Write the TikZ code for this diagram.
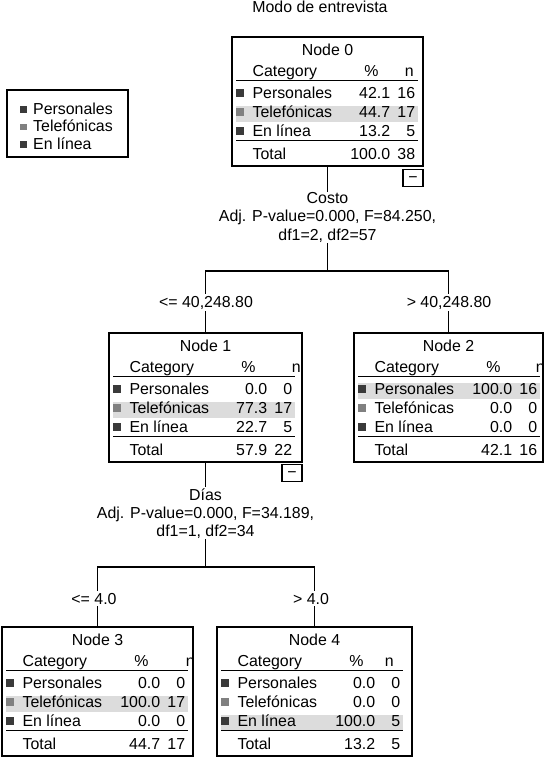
\documentclass[tikz,border=0pt]{standalone}
\usepackage{fontspec}
\setmainfont{Liberation Sans}
\usetikzlibrary{calc}
\definecolor{cat1}{HTML}{3A3A3A}
\definecolor{cat2}{HTML}{808080}
\definecolor{cat3}{HTML}{3A3A3A}
\definecolor{hilite}{HTML}{DCDCDC}

% table inside a tree node: box, title, highlighted row, rows, total %, total n, n header x
\newcommand{\cattable}[7]{%
  \node[txt, anchor=base] (#1-title) at ([yshift=-19pt]#1.north) {#2};
  \begin{scope}[shift={(#1.north west)}]
    \fill[hilite] (5,{31.5+19*#3}) rectangle (187,{47.5+19*#3});
    \node[txt, anchor=base west] (#1-cat) at (21,40) {Category};
    \node[txt, anchor=base] (#1-pcthead) at (140,40) {\%};
    \node[txt, anchor=base] (#1-nhead) at (#7,40) {n};
    \draw[rule] (5,44) -- (187,44);
    \foreach \pc/\nn [count=\i] in {#4} {
      \fill[cat\i] (5,{34+19*\i}) rectangle (13,{42+19*\i});
      \node[txt, anchor=base west] (#1-row\i) at (21,{43+19*\i})
        {\ifcase\i\or Personales\or Telefónicas\or En línea\fi};
      \node[txt, anchor=base east] (#1-pct\i) at (159,{43+19*\i}) {\pc};
      \node[txt, anchor=base east] (#1-n\i) at (184,{43+19*\i}) {\nn};
    }
    \draw[rule] (5,104) -- (187,104);
    \node[txt, anchor=base west] (#1-total) at (21,123) {Total};
    \node[txt, anchor=base east] (#1-totpct) at (159,123) {#5};
    \node[txt, anchor=base east] (#1-totn) at (184,123) {#6};
  \end{scope}}

\begin{document}
\begin{tikzpicture}[
    x=1pt, y=-1pt,
    font=\fontsize{15.9}{18}\selectfont,
    txt/.style={inner sep=0pt},
    treebox/.style={rectangle, draw, line width=1.3pt, minimum height=129pt, inner sep=0pt},
    minusbox/.style={rectangle, draw, line width=1.2pt, minimum width=20pt, minimum height=17pt,
      inner sep=0pt, text height=9.4pt, text depth=0pt},
    rule/.style={line width=1.3pt},
    link/.style={line width=1.2pt},
    split/.style={align=center, fill=white, inner sep=1pt},
    cond/.style={fill=white, inner sep=1.5pt}
]
    \useasboundingbox (0,0) rectangle (546,759);

    % titulo
    \node[txt, anchor=base] (title) at (320,12.7) {Modo de entrevista};

    % leyenda
    \node[rectangle, draw, line width=1.2pt, minimum width=121pt, minimum height=67pt] (legend) at (67.5,123.5) {};
    \foreach \lbl [count=\i] in {Personales,Telefónicas,En línea} {
      \fill[cat\i] (20,{89+17.5*\i}) rectangle (26.5,{95.5+17.5*\i});
      \node[txt, anchor=base west] (leg\i) at (33,{97+17.5*\i}) {\lbl};
    }

    % nodos del arbol
    \node[treebox, minimum width=191pt] (n0) at (327.5,101.5) {};
    \node[treebox, minimum width=193pt] (n1) at (205.5,397.5) {};
    \node[treebox, minimum width=189pt] (n2) at (448.5,397.5) {};
    \node[treebox, minimum width=191pt] (n3) at (97.5,691.5) {};
    \node[treebox, minimum width=195pt] (n4) at (314.5,691.5) {};

    \node[minusbox, anchor=north east] (n0-minus) at ([yshift=-2pt]n0.south east) {−};
    \node[minusbox, anchor=north east] (n1-minus) at ([yshift=-1pt]n1.south east) {−};

    % ramas
    \coordinate (b0) at (327.5,271);
    \coordinate (b1) at (205.5,567);
    \draw[link] (n0.south) -- (b0) -| (n1.north);
    \draw[link] (b0) -| (n2.north);
    \draw[link] (n1.south) -- (b1) -| (n3.north);
    \draw[link] (b1) -| (n4.north);

    % tablas
    \cattable{n0}{Node 0}{2}{42.1/16,44.7/17,13.2/5}{100.0}{38}{178}
    \cattable{n1}{Node 1}{2}{0.0/0,77.3/17,22.7/5}{57.9}{22}{188}
    \cattable{n2}{Node 2}{1}{100.0/16,0.0/0,0.0/0}{42.1}{16}{187}
    \cattable{n3}{Node 3}{2}{0.0/0,100.0/17,0.0/0}{44.7}{17}{189}
    \cattable{n4}{Node 4}{3}{0.0/0,0.0/0,100.0/5}{13.2}{5}{173}

    % divisiones
    \node[split, anchor=base] (split0) at (327.5,240) {Costo\\Adj. P-value=0.000, F=84.250,\\df1=2, df2=57};
    \node[split, anchor=base] (split1) at (205.5,536) {Días\\Adj. P-value=0.000, F=34.189,\\df1=1, df2=34};

    % condiciones
    \node[cond, anchor=base] (c1) at (206,307) {<= 40,248.80};
    \node[cond, anchor=base] (c2) at (449,307) {> 40,248.80};
    \node[cond, anchor=base] (c3) at (94,604) {<= 4.0};
    \node[cond, anchor=base] (c4) at (311,604) {> 4.0};
\end{tikzpicture}
\end{document}
